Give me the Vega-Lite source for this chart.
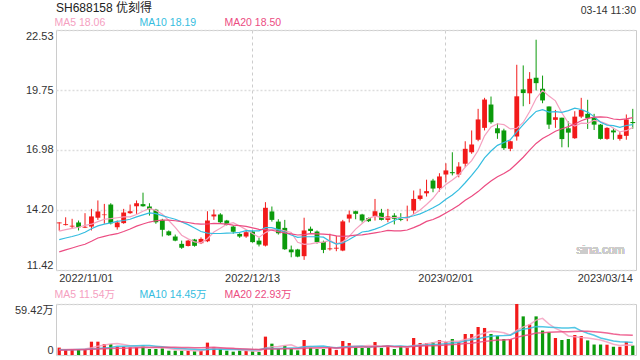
{
  "$schema": "https://vega.github.io/schema/vega-lite/v6.json",
  "padding": {"left": 13, "top": 2, "right": 6, "bottom": 4},
  "spacing": 5,
  "config": {
    "font": "Liberation Sans, Noto Sans CJK SC",
    "view": {"stroke": "#cccccc", "strokeWidth": 1},
    "axis": {"labelColor": "#333333", "labelFontSize": 11, "ticks": false, "domain": false},
    "legend": {"padding": 0}
  },
  "data": {"values": [
    {"d":"2022/11/01","o":13.58,"h":13.63,"l":13.24,"c":13.62,"v":8.6,"m5":13.22,"m10":12.83,"m20":12.26,"q5":6.5,"q10":6.0,"q20":5.6},
    {"d":"2022/11/02","o":13.50,"h":13.86,"l":13.48,"c":13.54,"v":6.6,"m5":13.29,"m10":12.90,"m20":12.35,"q5":6.5,"q10":6.1,"q20":5.8},
    {"d":"2022/11/03","o":13.43,"h":13.79,"l":13.33,"c":13.47,"v":6.2,"m5":13.35,"m10":12.97,"m20":12.44,"q5":6.6,"q10":6.2,"q20":6.0},
    {"d":"2022/11/04","o":13.62,"h":13.71,"l":13.25,"c":13.40,"v":7.0,"m5":13.40,"m10":13.05,"m20":12.53,"q5":6.8,"q10":6.3,"q20":6.2},
    {"d":"2022/11/07","o":13.38,"h":14.05,"l":13.36,"c":13.42,"v":7.0,"m5":13.49,"m10":13.17,"m20":12.61,"q5":7.08,"q10":6.5,"q20":6.4},
    {"d":"2022/11/08","o":13.43,"h":14.25,"l":13.25,"c":13.90,"v":15.5,"m5":13.54,"m10":13.33,"m20":12.75,"q5":8.46,"q10":7.0,"q20":6.6},
    {"d":"2022/11/09","o":13.84,"h":14.64,"l":13.74,"c":14.13,"v":15.5,"m5":13.66,"m10":13.46,"m20":12.90,"q5":10.24,"q10":7.5,"q20":6.9},
    {"d":"2022/11/10","o":13.96,"h":14.48,"l":13.56,"c":13.99,"v":12.8,"m5":13.77,"m10":13.54,"m20":12.98,"q5":11.56,"q10":8.2,"q20":7.2},
    {"d":"2022/11/11","o":14.45,"h":14.51,"l":13.53,"c":13.58,"v":12.8,"m5":13.80,"m10":13.60,"m20":13.05,"q5":12.72,"q10":8.8,"q20":7.5},
    {"d":"2022/11/14","o":13.40,"h":13.71,"l":13.29,"c":13.62,"v":9.7,"m5":13.84,"m10":13.67,"m20":13.10,"q5":13.26,"q10":10.17,"q20":7.8},
    {"d":"2022/11/15","o":13.59,"h":14.25,"l":13.56,"c":14.08,"v":9.7,"m5":13.88,"m10":13.71,"m20":13.20,"q5":12.10,"q10":10.28,"q20":8.0},
    {"d":"2022/11/16","o":14.05,"h":14.45,"l":14.02,"c":14.14,"v":8.9,"m5":13.88,"m10":13.77,"m20":13.32,"q5":10.78,"q10":10.51,"q20":8.2},
    {"d":"2022/11/17","o":14.37,"h":14.64,"l":14.02,"c":14.51,"v":8.9,"m5":13.99,"m10":13.88,"m20":13.45,"q5":10.00,"q10":10.78,"q20":8.4},
    {"d":"2022/11/18","o":14.47,"h":15.00,"l":14.35,"c":14.37,"v":10.9,"m5":14.14,"m10":13.97,"m20":13.55,"q5":9.62,"q10":11.17,"q20":8.6},
    {"d":"2022/11/21","o":14.36,"h":14.51,"l":13.94,"c":14.23,"v":7.0,"m5":14.27,"m10":14.06,"m20":13.64,"q5":9.08,"q10":11.17,"q20":8.8},
    {"d":"2022/11/22","o":14.21,"h":14.25,"l":13.56,"c":13.63,"v":7.0,"m5":14.18,"m10":14.03,"m20":13.70,"q5":8.54,"q10":10.32,"q20":8.9},
    {"d":"2022/11/23","o":13.74,"h":13.79,"l":12.97,"c":13.28,"v":7.8,"m5":14.00,"m10":13.94,"m20":13.73,"q5":8.32,"q10":9.55,"q20":8.9},
    {"d":"2022/11/24","o":13.21,"h":13.25,"l":13.00,"c":13.03,"v":5.0,"m5":13.71,"m10":13.85,"m20":13.73,"q5":7.54,"q10":8.77,"q20":8.9},
    {"d":"2022/11/25","o":12.97,"h":13.06,"l":12.75,"c":12.78,"v":5.0,"m5":13.39,"m10":13.77,"m20":13.70,"q5":6.36,"q10":7.99,"q20":8.9},
    {"d":"2022/11/28","o":12.63,"h":12.78,"l":12.40,"c":12.45,"v":5.0,"m5":13.03,"m10":13.65,"m20":13.66,"q5":5.96,"q10":7.52,"q20":8.85},
    {"d":"2022/11/29","o":12.53,"h":12.81,"l":12.51,"c":12.78,"v":5.0,"m5":12.86,"m10":13.52,"m20":13.62,"q5":5.56,"q10":7.05,"q20":8.67},
    {"d":"2022/11/30","o":12.83,"h":12.86,"l":12.50,"c":12.54,"v":4.3,"m5":12.72,"m10":13.36,"m20":13.57,"q5":4.86,"q10":6.59,"q20":8.55},
    {"d":"2022/12/01","o":12.66,"h":12.93,"l":12.62,"c":12.86,"v":5.0,"m5":12.68,"m10":13.20,"m20":13.54,"q5":4.86,"q10":6.20,"q20":8.49},
    {"d":"2022/12/02","o":12.75,"h":14.14,"l":12.71,"c":13.71,"v":14.4,"m5":12.87,"m10":13.13,"m20":13.55,"q5":6.74,"q10":6.55,"q20":8.86},
    {"d":"2022/12/05","o":13.90,"h":14.22,"l":13.74,"c":13.99,"v":8.9,"m5":13.18,"m10":13.11,"m20":13.58,"q5":7.52,"q10":6.74,"q20":8.96},
    {"d":"2022/12/06","o":13.99,"h":14.05,"l":13.58,"c":13.63,"v":6.6,"m5":13.35,"m10":13.11,"m20":13.57,"q5":7.84,"q10":6.70,"q20":8.51},
    {"d":"2022/12/07","o":13.71,"h":13.74,"l":13.48,"c":13.51,"v":5.0,"m5":13.54,"m10":13.13,"m20":13.54,"q5":7.98,"q10":6.42,"q20":7.99},
    {"d":"2022/12/08","o":13.43,"h":13.48,"l":13.10,"c":13.19,"v":3.9,"m5":13.61,"m10":13.14,"m20":13.50,"q5":7.76,"q10":6.31,"q20":7.54},
    {"d":"2022/12/09","o":13.09,"h":13.12,"l":12.91,"c":12.97,"v":5.0,"m5":13.46,"m10":13.16,"m20":13.47,"q5":5.88,"q10":6.31,"q20":7.15},
    {"d":"2022/12/12","o":12.97,"h":13.25,"l":12.91,"c":13.17,"v":5.0,"m5":13.29,"m10":13.24,"m20":13.44,"q5":5.10,"q10":6.31,"q20":6.92},
    {"d":"2022/12/13","o":13.20,"h":13.25,"l":12.69,"c":12.71,"v":4.3,"m5":13.11,"m10":13.23,"m20":13.37,"q5":4.64,"q10":6.24,"q20":6.65},
    {"d":"2022/12/14","o":12.78,"h":12.91,"l":12.51,"c":12.60,"v":3.5,"m5":12.93,"m10":13.23,"m20":13.30,"q5":4.34,"q10":6.16,"q20":6.38},
    {"d":"2022/12/15","o":12.55,"h":14.56,"l":12.51,"c":14.30,"v":21.4,"m5":13.15,"m10":13.38,"m20":13.29,"q5":7.84,"q10":7.80,"q20":7.00},
    {"d":"2022/12/16","o":14.13,"h":14.36,"l":13.66,"c":13.74,"v":13.2,"m5":13.30,"m10":13.38,"m20":13.26,"q5":9.48,"q10":7.68,"q20":7.12},
    {"d":"2022/12/19","o":13.66,"h":13.77,"l":13.06,"c":13.12,"v":7.0,"m5":13.29,"m10":13.29,"m20":13.20,"q5":9.88,"q10":7.49,"q20":7.12},
    {"d":"2022/12/20","o":13.37,"h":13.74,"l":12.35,"c":12.38,"v":10.9,"m5":13.23,"m10":13.17,"m20":13.14,"q5":11.20,"q10":7.92,"q20":7.31},
    {"d":"2022/12/21","o":12.37,"h":12.55,"l":12.01,"c":12.24,"v":7.0,"m5":13.16,"m10":13.04,"m20":13.09,"q5":11.90,"q10":8.12,"q20":7.27},
    {"d":"2022/12/22","o":12.37,"h":12.40,"l":12.01,"c":12.04,"v":5.4,"m5":12.70,"m10":12.93,"m20":13.04,"q5":8.70,"q10":8.27,"q20":7.29},
    {"d":"2022/12/23","o":12.06,"h":13.84,"l":11.89,"c":13.25,"v":17.5,"m5":12.61,"m10":12.96,"m20":13.06,"q5":9.56,"q10":9.52,"q20":7.92},
    {"d":"2022/12/26","o":13.33,"h":13.43,"l":13.10,"c":13.22,"v":8.2,"m5":12.63,"m10":12.96,"m20":13.10,"q5":9.80,"q10":9.84,"q20":8.08},
    {"d":"2022/12/27","o":13.20,"h":13.25,"l":12.64,"c":12.71,"v":7.0,"m5":12.69,"m10":12.96,"m20":13.09,"q5":9.02,"q10":10.11,"q20":8.18},
    {"d":"2022/12/28","o":12.72,"h":12.78,"l":12.20,"c":12.35,"v":7.0,"m5":12.71,"m10":12.94,"m20":13.08,"q5":9.02,"q10":10.46,"q20":8.31},
    {"d":"2022/12/29","o":12.38,"h":13.10,"l":12.32,"c":12.42,"v":8.5,"m5":12.79,"m10":12.75,"m20":13.06,"q5":9.64,"q10":9.17,"q20":8.49},
    {"d":"2022/12/30","o":12.41,"h":13.00,"l":12.29,"c":12.45,"v":5.8,"m5":12.63,"m10":12.62,"m20":13.00,"q5":7.30,"q10":8.43,"q20":8.06},
    {"d":"2023/01/03","o":12.32,"h":13.74,"l":12.29,"c":13.67,"v":16.3,"m5":12.72,"m10":12.67,"m20":12.98,"q5":8.92,"q10":9.36,"q20":8.43},
    {"d":"2023/01/04","o":13.80,"h":14.17,"l":13.62,"c":13.99,"v":14.0,"m5":12.98,"m10":12.83,"m20":13.00,"q5":10.32,"q10":9.67,"q20":8.80},
    {"d":"2023/01/05","o":14.14,"h":14.17,"l":13.77,"c":14.02,"v":8.5,"m5":13.31,"m10":13.01,"m20":13.03,"q5":10.62,"q10":9.82,"q20":8.97},
    {"d":"2023/01/06","o":13.99,"h":14.02,"l":13.62,"c":13.71,"v":8.2,"m5":13.57,"m10":13.18,"m20":13.05,"q5":10.56,"q10":10.10,"q20":9.19},
    {"d":"2023/01/09","o":13.82,"h":13.85,"l":13.64,"c":13.68,"v":8.2,"m5":13.81,"m10":13.22,"m20":13.09,"q5":11.04,"q10":9.17,"q20":9.35},
    {"d":"2023/01/10","o":13.91,"h":14.71,"l":13.71,"c":14.14,"v":15.1,"m5":13.91,"m10":13.31,"m20":13.14,"q5":10.80,"q10":9.86,"q20":9.85},
    {"d":"2023/01/11","o":14.07,"h":14.25,"l":13.71,"c":13.74,"v":8.2,"m5":13.86,"m10":13.42,"m20":13.19,"q5":9.64,"q10":9.98,"q20":10.05},
    {"d":"2023/01/12","o":13.74,"h":14.25,"l":13.63,"c":13.90,"v":10.9,"m5":13.83,"m10":13.57,"m20":13.25,"q5":10.12,"q10":10.37,"q20":10.42},
    {"d":"2023/01/13","o":13.94,"h":14.05,"l":13.53,"c":13.79,"v":7.0,"m5":13.85,"m10":13.71,"m20":13.23,"q5":9.88,"q10":10.22,"q20":9.70},
    {"d":"2023/01/16","o":13.78,"h":14.05,"l":13.68,"c":13.74,"v":9.3,"m5":13.86,"m10":13.84,"m20":13.23,"q5":10.10,"q10":10.57,"q20":9.50},
    {"d":"2023/01/17","o":13.84,"h":14.40,"l":13.68,"c":13.88,"v":8.9,"m5":13.81,"m10":13.86,"m20":13.27,"q5":8.86,"q10":9.83,"q20":9.60},
    {"d":"2023/01/18","o":14.17,"h":15.10,"l":14.02,"c":14.71,"v":19.8,"m5":14.00,"m10":13.93,"m20":13.38,"q5":11.18,"q10":10.41,"q20":10.04},
    {"d":"2023/01/19","o":14.71,"h":15.18,"l":14.64,"c":14.87,"v":14.0,"m5":14.20,"m10":14.02,"m20":13.51,"q5":11.80,"q10":10.96,"q20":10.39},
    {"d":"2023/01/20","o":14.97,"h":15.60,"l":14.82,"c":15.07,"v":14.0,"m5":14.45,"m10":14.15,"m20":13.67,"q5":13.20,"q10":11.54,"q20":10.82},
    {"d":"2023/01/30","o":15.56,"h":15.64,"l":15.02,"c":15.19,"v":14.8,"m5":14.74,"m10":14.30,"m20":13.76,"q5":14.30,"q10":12.20,"q20":10.69},
    {"d":"2023/01/31","o":15.21,"h":15.90,"l":15.05,"c":15.75,"v":17.5,"m5":15.12,"m10":14.46,"m20":13.89,"q5":16.02,"q10":12.44,"q20":11.15},
    {"d":"2023/02/01","o":15.84,"h":16.36,"l":15.48,"c":16.03,"v":15.1,"m5":15.38,"m10":14.69,"m20":14.06,"q5":15.08,"q10":13.13,"q20":11.56},
    {"d":"2023/02/02","o":15.95,"h":16.87,"l":15.80,"c":15.90,"v":18.6,"m5":15.59,"m10":14.89,"m20":14.23,"q5":16.00,"q10":13.90,"q20":12.14},
    {"d":"2023/02/03","o":15.84,"h":16.41,"l":15.71,"c":16.21,"v":14.8,"m5":15.82,"m10":15.14,"m20":14.42,"q5":16.16,"q10":14.68,"q20":12.45},
    {"d":"2023/02/06","o":16.34,"h":17.38,"l":16.18,"c":17.03,"v":24.5,"m5":16.18,"m10":15.46,"m20":14.65,"q5":18.10,"q10":16.20,"q20":13.39},
    {"d":"2023/02/07","o":16.87,"h":17.88,"l":16.80,"c":17.23,"v":24.5,"m5":16.48,"m10":15.80,"m20":14.83,"q5":19.50,"q10":17.76,"q20":13.80},
    {"d":"2023/02/08","o":17.45,"h":18.88,"l":17.38,"c":18.39,"v":32.6,"m5":16.95,"m10":16.17,"m20":15.05,"q5":23.00,"q10":19.04,"q20":14.73},
    {"d":"2023/02/09","o":18.00,"h":19.39,"l":17.88,"c":19.31,"v":31.5,"m5":17.63,"m10":16.61,"m20":15.31,"q5":25.58,"q10":20.79,"q20":15.88},
    {"d":"2023/02/10","o":19.08,"h":19.45,"l":18.19,"c":18.26,"v":24.5,"m5":18.04,"m10":16.93,"m20":15.54,"q5":27.52,"q10":21.84,"q20":16.69},
    {"d":"2023/02/13","o":17.98,"h":18.21,"l":17.49,"c":17.75,"v":22.1,"m5":18.19,"m10":17.19,"m20":15.74,"q5":27.04,"q10":22.57,"q20":17.39},
    {"d":"2023/02/14","o":17.88,"h":17.96,"l":16.98,"c":17.06,"v":18.6,"m5":18.15,"m10":17.32,"m20":15.89,"q5":25.86,"q10":22.68,"q20":17.56},
    {"d":"2023/02/15","o":17.03,"h":17.41,"l":16.92,"c":17.38,"v":18.6,"m5":17.95,"m10":17.45,"m20":16.07,"q5":23.06,"q10":23.03,"q20":18.08},
    {"d":"2023/02/16","o":17.60,"h":20.92,"l":17.41,"c":19.46,"v":59.42,"m5":17.98,"m10":17.81,"m20":16.35,"q5":28.64,"q10":27.11,"q20":20.51},
    {"d":"2023/02/17","o":19.78,"h":20.89,"l":19.00,"c":19.61,"v":45.0,"m5":18.25,"m10":18.15,"m20":16.64,"q5":32.74,"q10":30.13,"q20":22.41},
    {"d":"2023/02/20","o":19.60,"h":20.58,"l":19.10,"c":20.27,"v":35.5,"m5":18.76,"m10":18.47,"m20":16.97,"q5":35.42,"q10":31.23,"q20":23.72},
    {"d":"2023/02/21","o":20.32,"h":22.08,"l":19.73,"c":20.07,"v":45.0,"m5":19.36,"m10":18.76,"m20":17.28,"q5":40.70,"q10":33.28,"q20":25.52},
    {"d":"2023/02/22","o":19.81,"h":20.42,"l":19.14,"c":19.27,"v":28.5,"m5":19.74,"m10":18.84,"m20":17.51,"q5":42.68,"q10":32.87,"q20":25.96},
    {"d":"2023/02/23","o":18.99,"h":18.99,"l":17.95,"c":18.15,"v":26.5,"m5":19.47,"m10":18.73,"m20":17.67,"q5":36.10,"q10":32.37,"q20":26.58},
    {"d":"2023/02/24","o":18.37,"h":18.83,"l":18.00,"c":18.49,"v":19.8,"m5":19.25,"m10":18.75,"m20":17.84,"q5":31.06,"q10":31.90,"q20":26.87},
    {"d":"2023/02/27","o":18.47,"h":18.47,"l":17.10,"c":17.48,"v":17.5,"m5":18.69,"m10":18.72,"m20":17.96,"q5":27.46,"q10":31.44,"q20":27.01},
    {"d":"2023/02/28","o":17.98,"h":18.30,"l":17.10,"c":17.78,"v":18.6,"m5":18.23,"m10":18.80,"m20":18.06,"q5":22.18,"q10":31.44,"q20":27.06},
    {"d":"2023/03/01","o":17.52,"h":18.77,"l":17.49,"c":18.52,"v":23.3,"m5":18.08,"m10":18.91,"m20":18.18,"q5":21.14,"q10":31.91,"q20":27.47},
    {"d":"2023/03/02","o":18.52,"h":19.39,"l":18.45,"c":18.83,"v":22.1,"m5":18.22,"m10":18.85,"m20":18.33,"q5":20.26,"q10":28.18,"q20":27.65},
    {"d":"2023/03/03","o":18.65,"h":19.30,"l":17.95,"c":18.45,"v":17.0,"m5":18.21,"m10":18.73,"m20":18.44,"q5":19.70,"q10":25.38,"q20":27.76},
    {"d":"2023/03/06","o":18.46,"h":18.65,"l":17.90,"c":18.15,"v":12.2,"m5":18.35,"m10":18.52,"m20":18.50,"q5":18.64,"q10":23.05,"q20":27.14},
    {"d":"2023/03/07","o":18.15,"h":18.18,"l":17.46,"c":17.49,"v":12.2,"m5":18.29,"m10":18.26,"m20":18.51,"q5":17.36,"q10":19.77,"q20":26.53},
    {"d":"2023/03/08","o":17.49,"h":18.03,"l":17.45,"c":18.00,"v":12.0,"m5":18.18,"m10":18.13,"m20":18.49,"q5":15.10,"q10":18.12,"q20":25.50},
    {"d":"2023/03/09","o":17.88,"h":18.00,"l":17.45,"c":17.79,"v":9.6,"m5":17.98,"m10":18.10,"m20":18.41,"q5":12.60,"q10":16.43,"q20":24.40},
    {"d":"2023/03/10","o":17.49,"h":17.80,"l":17.41,"c":17.68,"v":9.6,"m5":17.82,"m10":18.02,"m20":18.38,"q5":11.12,"q10":15.41,"q20":23.66},
    {"d":"2023/03/13","o":17.63,"h":18.62,"l":17.45,"c":18.39,"v":15.3,"m5":17.87,"m10":18.11,"m20":18.42,"q5":11.74,"q10":15.19,"q20":23.32},
    {"d":"2023/03/14","o":18.27,"h":18.88,"l":17.96,"c":18.22,"v":11.0,"m5":18.02,"m10":18.15,"m20":18.47,"q5":11.50,"q10":14.43,"q20":22.94}
  ]},
  "resolve": {"scale": {"color": "independent", "y": "independent"}, "legend": {"color": "independent"}},
  "vconcat": [
    {
      "width": 580,
      "height": 240,
      "title": {"text": "03-14 11:30", "anchor": "end", "frame": "group", "fontSize": 10.5, "fontWeight": "normal", "color": "#333333", "offset": 0, "dy": 13.5},
      "encoding": {
        "x": {"field": "d", "type": "ordinal", "title": null,
          "scale": {"paddingInner": 0, "paddingOuter": 0},
          "axis": {"values": ["2022/11/01", "2022/12/13", "2023/02/01", "2023/03/14"], "labelAngle": 0, "labelFlush": 8, "labelPadding": 2,
            "grid": true, "gridColor": "#cccccc", "gridDash": [3, 3],
            "gridOpacity": {"condition": {"test": "datum.value == '2022/11/01' || datum.value == '2023/03/14'", "value": 0}, "value": 1}}}
      },
      "layer": [
        {
          "mark": {"type": "rule", "strokeWidth": 1},
          "encoding": {
            "y": {"field": "l", "type": "quantitative", "title": null,
              "scale": {"domain": [11.42, 22.53], "nice": false, "zero": false},
              "axis": {"values": [11.42, 14.2, 16.98, 19.75, 22.53], "format": ".2f", "labelFlush": true, "labelPadding": 3, "grid": true, "gridColor": "#dddddd", "gridDash": [2, 2], "gridWidth": 1.5}},
            "y2": {"field": "h"},
            "color": {"condition": {"test": "datum.c >= datum.o", "value": "#f21a1a"}, "value": "#0b9a0b"}
          }
        },
        {
          "mark": {"type": "bar", "width": {"band": 0.75}},
          "encoding": {
            "y": {"field": "o", "type": "quantitative", "title": null},
            "y2": {"field": "c"},
            "color": {"condition": {"test": "datum.c >= datum.o", "value": "#f21a1a"}, "value": "#0b9a0b"}
          }
        },
        {
          "transform": [{"fold": ["m5", "m10", "m20"], "as": ["k", "val"]}],
          "mark": {"type": "line", "strokeWidth": 1.2},
          "encoding": {
            "y": {"field": "val", "type": "quantitative", "title": null},
            "color": {"field": "k", "type": "nominal",
              "scale": {"domain": ["m5", "m10", "m20"], "range": ["#f5a0bf", "#35bde0", "#ec4c82"]},
              "legend": {"orient": "none", "legendX": 0, "legendY": -27, "direction": "horizontal", "columns": 3, "gridAlign": "all", "columnPadding": 27,
                "title": "SH688158 优刻得", "titleFontSize": 12, "titleFontWeight": "normal", "titleColor": "#222222", "titlePadding": 2.5, "titleAnchor": "start",
                "labelExpr": "datum.value == 'm5' ? 'MA5 18.06' : datum.value == 'm10' ? 'MA10 18.19' : 'MA20 18.50'",
                "labelColor": {"expr": "datum.value == 'm5' ? '#f5a0bf' : datum.value == 'm10' ? '#35bde0' : '#ec4c82'"},
                "labelFontSize": 10.5, "labelOffset": -12, "symbolSize": 0, "symbolStrokeWidth": 0, "symbolOpacity": 0}}
          }
        },
        {
          "mark": {"type": "text", "fontSize": 12, "color": "#cccccc", "align": "center"},
          "encoding": {
            "x": {"datum": "2023/03/07", "type": "ordinal"},
            "y": {"datum": 12.35, "type": "quantitative"},
            "text": {"value": "sina.com"}
          }
        }
      ]
    },
    {
      "width": 580,
      "height": 51,
      "encoding": {
        "x": {"field": "d", "type": "ordinal", "title": null,
          "scale": {"paddingInner": 0, "paddingOuter": 0},
          "axis": {"values": ["2022/11/01", "2022/12/13", "2023/02/01", "2023/03/14"], "labels": false,
            "grid": true, "gridColor": "#cccccc", "gridDash": [3, 3],
            "gridOpacity": {"condition": {"test": "datum.value == '2022/11/01' || datum.value == '2023/03/14'", "value": 0}, "value": 1}}}
      },
      "layer": [
        {
          "mark": {"type": "bar", "width": {"band": 0.5}},
          "encoding": {
            "y": {"field": "v", "type": "quantitative", "title": null,
              "scale": {"domain": [0, 59.42], "nice": false},
              "axis": {"values": [0, 59.42], "labelExpr": "datum.value == 0 ? '0' : '59.42万'", "labelFlush": true, "labelPadding": 3, "grid": true, "gridColor": "#dddddd", "gridDash": [2, 2], "gridWidth": 1.5}},
            "color": {"condition": {"test": "datum.c >= datum.o", "value": "#f21a1a"}, "value": "#0b9a0b"}
          }
        },
        {
          "transform": [{"fold": ["q5", "q10", "q20"], "as": ["k", "val"]}],
          "mark": {"type": "line", "strokeWidth": 1.5, "opacity": 0.85},
          "encoding": {
            "y": {"field": "val", "type": "quantitative", "title": null},
            "color": {"field": "k", "type": "nominal",
              "scale": {"domain": ["q5", "q10", "q20"], "range": ["#f5a0bf", "#35bde0", "#ec4c82"]},
              "legend": {"orient": "none", "legendX": 0, "legendY": -14, "direction": "horizontal", "columns": 3, "gridAlign": "all", "columnPadding": 17, "title": null,
                "labelExpr": "datum.value == 'q5' ? 'MA5 11.54万' : datum.value == 'q10' ? 'MA10 14.45万' : 'MA20 22.93万'",
                "labelColor": {"expr": "datum.value == 'q5' ? '#f5a0bf' : datum.value == 'q10' ? '#35bde0' : '#ec4c82'"},
                "labelFontSize": 10.5, "labelOffset": -12, "symbolSize": 0, "symbolStrokeWidth": 0, "symbolOpacity": 0}}
          }
        }
      ]
    }
  ]
}
